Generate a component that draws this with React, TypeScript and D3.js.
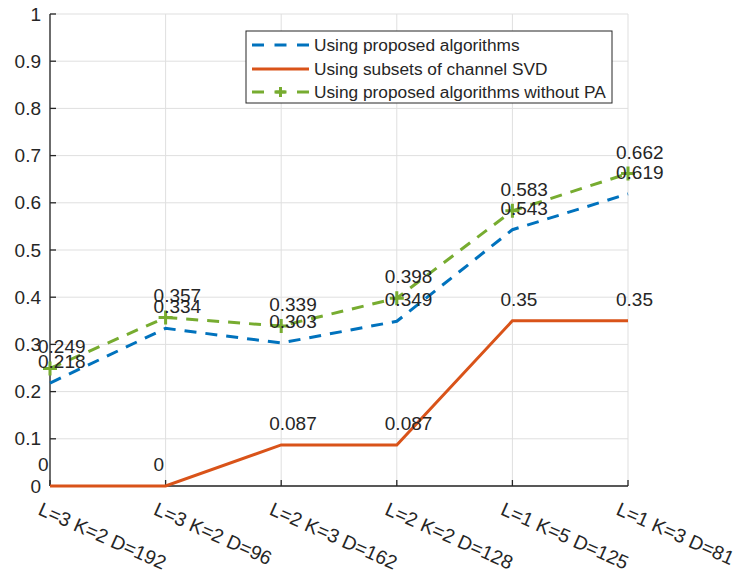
import React, { useEffect, useRef } from "react";
import * as d3 from "d3";

const categories = [
  "L=3 K=2 D=192",
  "L=3 K=2 D=96",
  "L=2 K=3 D=162",
  "L=2 K=2 D=128",
  "L=1 K=5 D=125",
  "L=1 K=3 D=81",
];
const proposed = [0.218, 0.334, 0.303, 0.349, 0.543, 0.619];
const subsetsSVD = [0, 0, 0.087, 0.087, 0.35, 0.35];
const withoutPA = [0.249, 0.357, 0.339, 0.398, 0.583, 0.662];
const yTicks = [0, 0.1, 0.2, 0.3, 0.4, 0.5, 0.6, 0.7, 0.8, 0.9, 1];
const legendNames = [
  "Using proposed algorithms",
  "Using subsets of channel SVD",
  "Using proposed algorithms without PA",
];

const W = 741;
const H = 574;
const FONT = "'Liberation Sans', Arial, Helvetica, sans-serif";
const TEXT = "#262626";

export default function App() {
  const ref = useRef<SVGSVGElement | null>(null);

  useEffect(() => {
    const svg = d3.select(ref.current);
    svg.selectAll("*").remove();

    const left = 50, right = 628, top = 14, bottom = 486;
    const x = d3.scalePoint<string>().domain(categories).range([left, right]);
    const y = d3.scaleLinear().domain([0, 1]).range([bottom, top]);

    svg.append("rect").attr("width", W).attr("height", H).attr("fill", "#fff");

    // grid
    const grid = svg.append("g").attr("stroke", "#dfdfdf").attr("stroke-width", 1);
    yTicks.forEach((t) => {
      grid.append("line").attr("x1", left).attr("x2", right).attr("y1", y(t)).attr("y2", y(t));
    });
    categories.forEach((c) => {
      grid.append("line").attr("x1", x(c)!).attr("x2", x(c)!).attr("y1", top).attr("y2", bottom);
    });

    // axes
    const ax = svg.append("g").attr("stroke", TEXT).attr("stroke-width", 1.3);
    ax.append("line").attr("x1", left).attr("x2", left).attr("y1", top).attr("y2", bottom);
    ax.append("line").attr("x1", left).attr("x2", right).attr("y1", bottom).attr("y2", bottom);
    yTicks.forEach((t) => {
      ax.append("line").attr("x1", left).attr("x2", left + 6).attr("y1", y(t)).attr("y2", y(t));
    });
    categories.forEach((c) => {
      ax.append("line").attr("x1", x(c)!).attr("x2", x(c)!).attr("y1", bottom).attr("y2", bottom - 6);
    });

    // y tick labels
    svg.append("g")
      .selectAll("text")
      .data(yTicks)
      .join("text")
      .attr("x", left - 9)
      .attr("y", (d) => y(d))
      .attr("dy", "0.35em")
      .attr("text-anchor", "end")
      .attr("font-family", FONT)
      .attr("font-size", 19)
      .attr("fill", TEXT)
      .text((d) => d3.format("~g")(d));

    // x tick labels, rotated
    svg.append("g")
      .selectAll("text")
      .data(categories)
      .join("text")
      .attr("transform", (d) => `translate(${x(d)! - 13},${bottom + 28}) rotate(24)`)
      .attr("font-family", FONT)
      .attr("font-size", 19.5)
      .attr("fill", TEXT)
      .text((d) => d);

    const line = d3
      .line<number>()
      .x((_, i) => x(categories[i])!)
      .y((d) => y(d));

    const series = [
      { data: proposed, color: "#0072BD", dash: "12 9", marker: false },
      { data: subsetsSVD, color: "#D95319", dash: null, marker: false },
      { data: withoutPA, color: "#77AC30", dash: "12 9", marker: true },
    ];

    series.forEach((s) => {
      svg.append("path")
        .attr("d", line(s.data))
        .attr("fill", "none")
        .attr("stroke", s.color)
        .attr("stroke-width", 3)
        .attr("stroke-dasharray", s.dash);
      if (s.marker) {
        const m = 7;
        s.data.forEach((v, i) => {
          const cx = x(categories[i])!, cy = y(v);
          svg.append("path")
            .attr("d", `M${cx - m},${cy}H${cx + m}M${cx},${cy - m}V${cy + m}`)
            .attr("stroke", s.color)
            .attr("stroke-width", 3);
        });
      }
    });

    // value labels
    series.forEach((s) => {
      svg.append("g")
        .selectAll("text")
        .data(s.data)
        .join("text")
        .attr("x", (_, i) => x(categories[i])! - 12)
        .attr("y", (d) => y(d) - 15)
        .attr("font-family", FONT)
        .attr("font-size", 19)
        .attr("fill", TEXT)
        .text((d) => String(d));
    });

    // legend
    const lg = svg.append("g");
    lg.append("rect")
      .attr("x", 246).attr("y", 31).attr("width", 366).attr("height", 72)
      .attr("fill", "#fff").attr("stroke", TEXT).attr("stroke-width", 1);
    const rows = [45, 69, 92];
    series.forEach((s, i) => {
      const ry = rows[i];
      lg.append("line")
        .attr("x1", 252).attr("x2", 309).attr("y1", ry).attr("y2", ry)
        .attr("stroke", s.color).attr("stroke-width", 3)
        .attr("stroke-dasharray", s.dash ? "12 10.5" : null);
      if (s.marker) {
        const cx = 280.5, m = 5;
        lg.append("path")
          .attr("d", `M${cx - m},${ry}H${cx + m}M${cx},${ry - m}V${ry + m}`)
          .attr("stroke", s.color).attr("stroke-width", 3);
      }
      lg.append("text")
        .attr("x", 314).attr("y", ry).attr("dy", "0.35em")
        .attr("font-family", FONT).attr("font-size", 17.3)
        .attr("fill", TEXT)
        .text(legendNames[i]);
    });
  }, []);

  return (
    <svg
      ref={ref}
      width={W}
      height={H}
      style={{ position: "absolute", left: 0, top: 0, display: "block" }}
    />
  );
}
